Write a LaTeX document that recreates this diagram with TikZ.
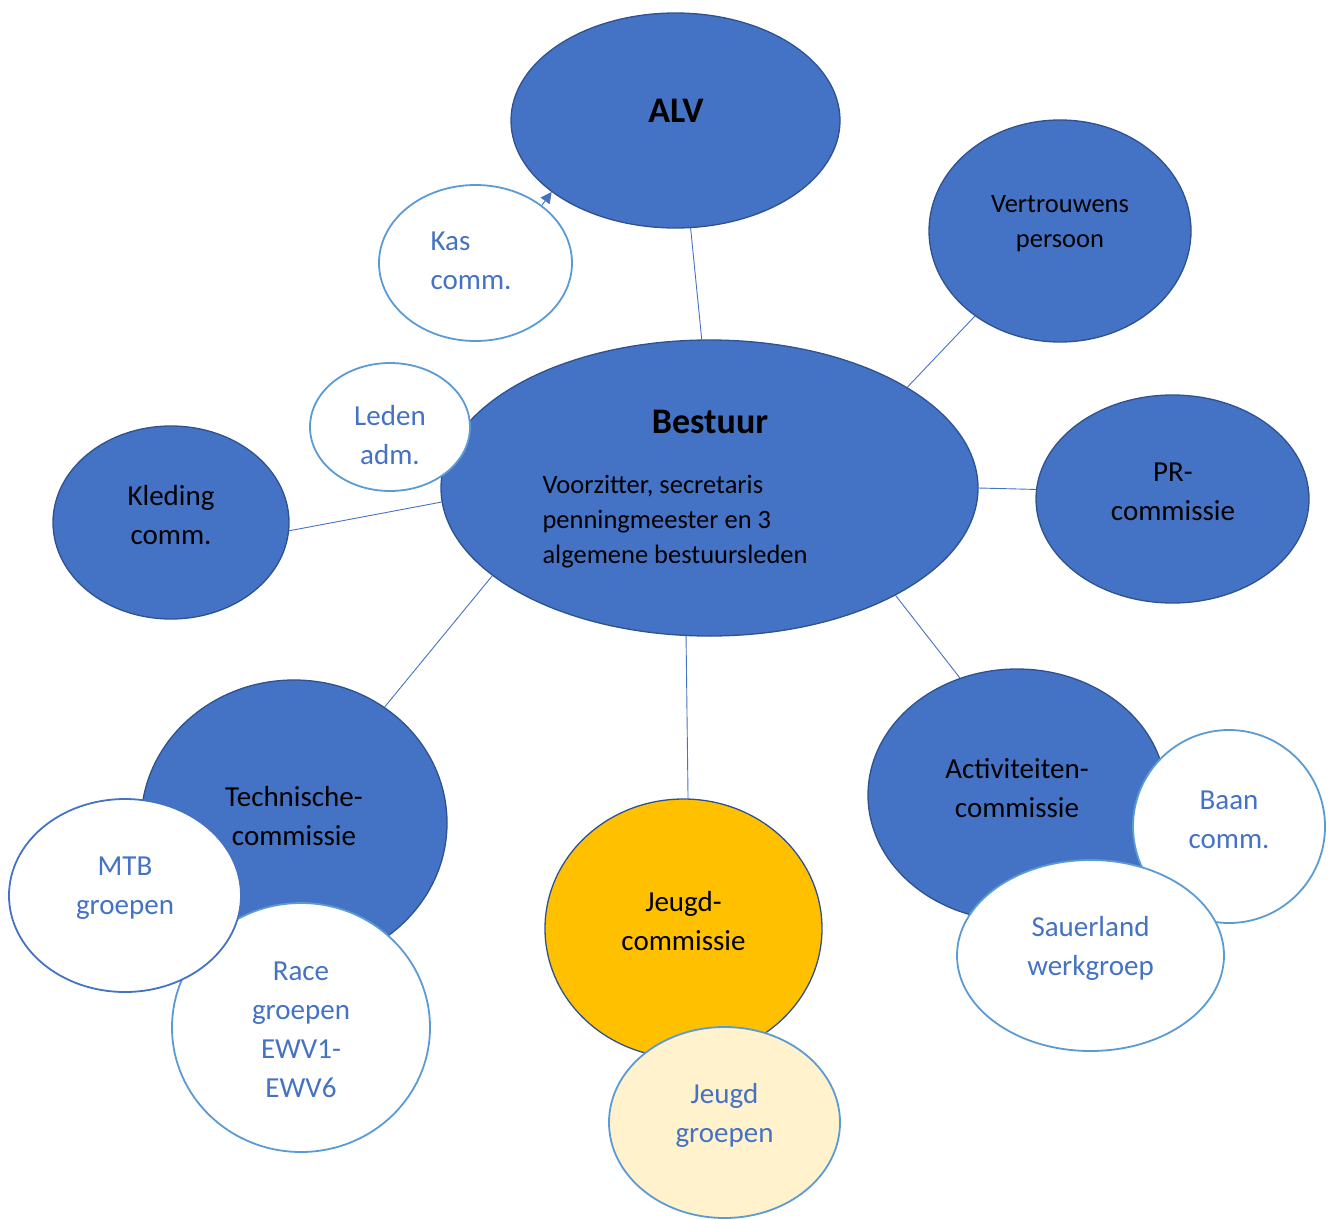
\documentclass[tikz,border=0pt]{standalone}
\usepackage{fontspec}
\setmainfont{Carlito}
\usetikzlibrary{shapes.geometric,arrows.meta,backgrounds}
\definecolor{dfill}{HTML}{4472C4}
\definecolor{dedge}{HTML}{2F528F}
\definecolor{ledge}{HTML}{5B9BD5}
\definecolor{ltext}{HTML}{4472C4}
\definecolor{jfill}{HTML}{FFC000}
\definecolor{jlight}{HTML}{FFF2CC}
\tikzset{
  dark/.style={ellipse, inner sep=0pt, fill=dfill, draw=dedge, line width=1.3pt},
  light/.style={ellipse, inner sep=0pt, fill=white, draw=ledge, line width=1.8pt},
  txt/.style={align=center, font=\fontsize{29}{39}\selectfont, text=black},
  ltxt/.style={align=center, font=\fontsize{29}{39}\selectfont, text=ltext},
  stxt/.style={align=left, font=\fontsize{26.5}{35}\selectfont, text=black},
  btxt/.style={font=\fontsize{36}{44}\selectfont\bfseries, text=black},
  conn/.style={draw=dfill, line width=0.9pt},
}
\begin{document}
\begin{tikzpicture}[x=1pt,y=-1pt]
\useasboundingbox (0,0) rectangle (1330,1218);
% ellipses
\node[light, minimum width=193pt, minimum height=156pt] (kas) at (475.5,263) {};
\node[dark, minimum width=329pt, minimum height=215pt] (alv) at (675.5,120.5) {};
\node[dark, minimum width=262pt, minimum height=222pt] (vert) at (1060,231) {};
\node[dark, minimum width=537pt, minimum height=296pt] (best) at (709.5,488) {};
\node[light, minimum width=160pt, minimum height=128pt] (leden) at (390,427) {};
\node[dark, minimum width=273pt, minimum height=208pt] (pr) at (1172.5,499) {};
\node[dark, minimum width=236pt, minimum height=193pt] (kled) at (171,522.5) {};
\node[dark, minimum width=306pt, minimum height=286pt] (tech) at (294,823) {};
\node[light, minimum width=258pt, minimum height=249pt] (race) at (301,1027.5) {};
\node[light, draw=dfill, minimum width=232pt, minimum height=193pt] (mtb) at (125,895.5) {};
\node[dark, fill=jfill, minimum width=277pt, minimum height=259pt] (jeugd) at (683.5,928.5) {};
\node[light, fill=jlight, minimum width=231pt, minimum height=191pt] (jgroep) at (724.5,1122.5) {};
\node[dark, minimum width=298pt, minimum height=252pt] (act) at (1017,795) {};
\node[light, minimum width=192pt, minimum height=193pt] (baan) at (1229,826.5) {};
\node[light, minimum width=267pt, minimum height=191pt] (sauer) at (1090.5,955.5) {};
% connectors
\begin{scope}[on background layer]
\draw[conn] (alv.-82.3) -- (best.93.7);
\draw[conn] (vert.-135) -- (best.27.5);
\draw[conn] (pr.176.6) -- (best.-0.6);
\draw[conn] (kled.-4.6) -- (best.183.2);
\draw[conn] (tech.52) -- (best.202.3);
\draw[conn] (jeugd.88.9) -- (best.261.7);
\draw[conn] (act.116.6) -- (best.-30.8);
\end{scope}
\draw[conn, -{Triangle[length=11pt,width=11pt]}] (kas.41.8) -- (alv.210);
% texts
\node[btxt] (talv) at (676,111) {ALV};
\node[btxt] (tbest) at (710,422) {Bestuur};
\node[stxt, anchor=west] (tbest2) at (539,522) {Voorzitter, secretaris\\penningmeester en 3\\algemene bestuursleden};
\node[stxt, align=center] (tvert) at (1060,223.5) {Vertrouwens\\persoon};
\node[ltxt, align=left, anchor=west] (tkas) at (427,260.5) {Kas\\comm.};
\node[ltxt] (tleden) at (390,435.5) {Leden\\adm.};
\node[txt] (tpr) at (1173,491.5) {PR-\\commissie};
\node[txt] (tkled) at (171,515.5) {Kleding\\comm.};
\node[txt] (ttech) at (294,816.5) {Technische-\\commissie};
\node[ltxt] (tmtb) at (125,888.5) {MTB\\groepen};
\node[ltxt] (trace) at (301,1030) {Race\\groepen\\EWV1-\\EWV6};
\node[txt] (tjeugd) at (683.5,921.5) {Jeugd-\\commissie};
\node[ltxt] (tjgroep) at (724.5,1115.5) {Jeugd\\groepen};
\node[txt] (tact) at (1017,788.5) {Activiteiten-\\commissie};
\node[ltxt] (tbaan) at (1229,819.5) {Baan\\comm.};
\node[ltxt] (tsauer) at (1090.5,948.5) {Sauerland\\werkgroep};
\end{tikzpicture}
\end{document}
